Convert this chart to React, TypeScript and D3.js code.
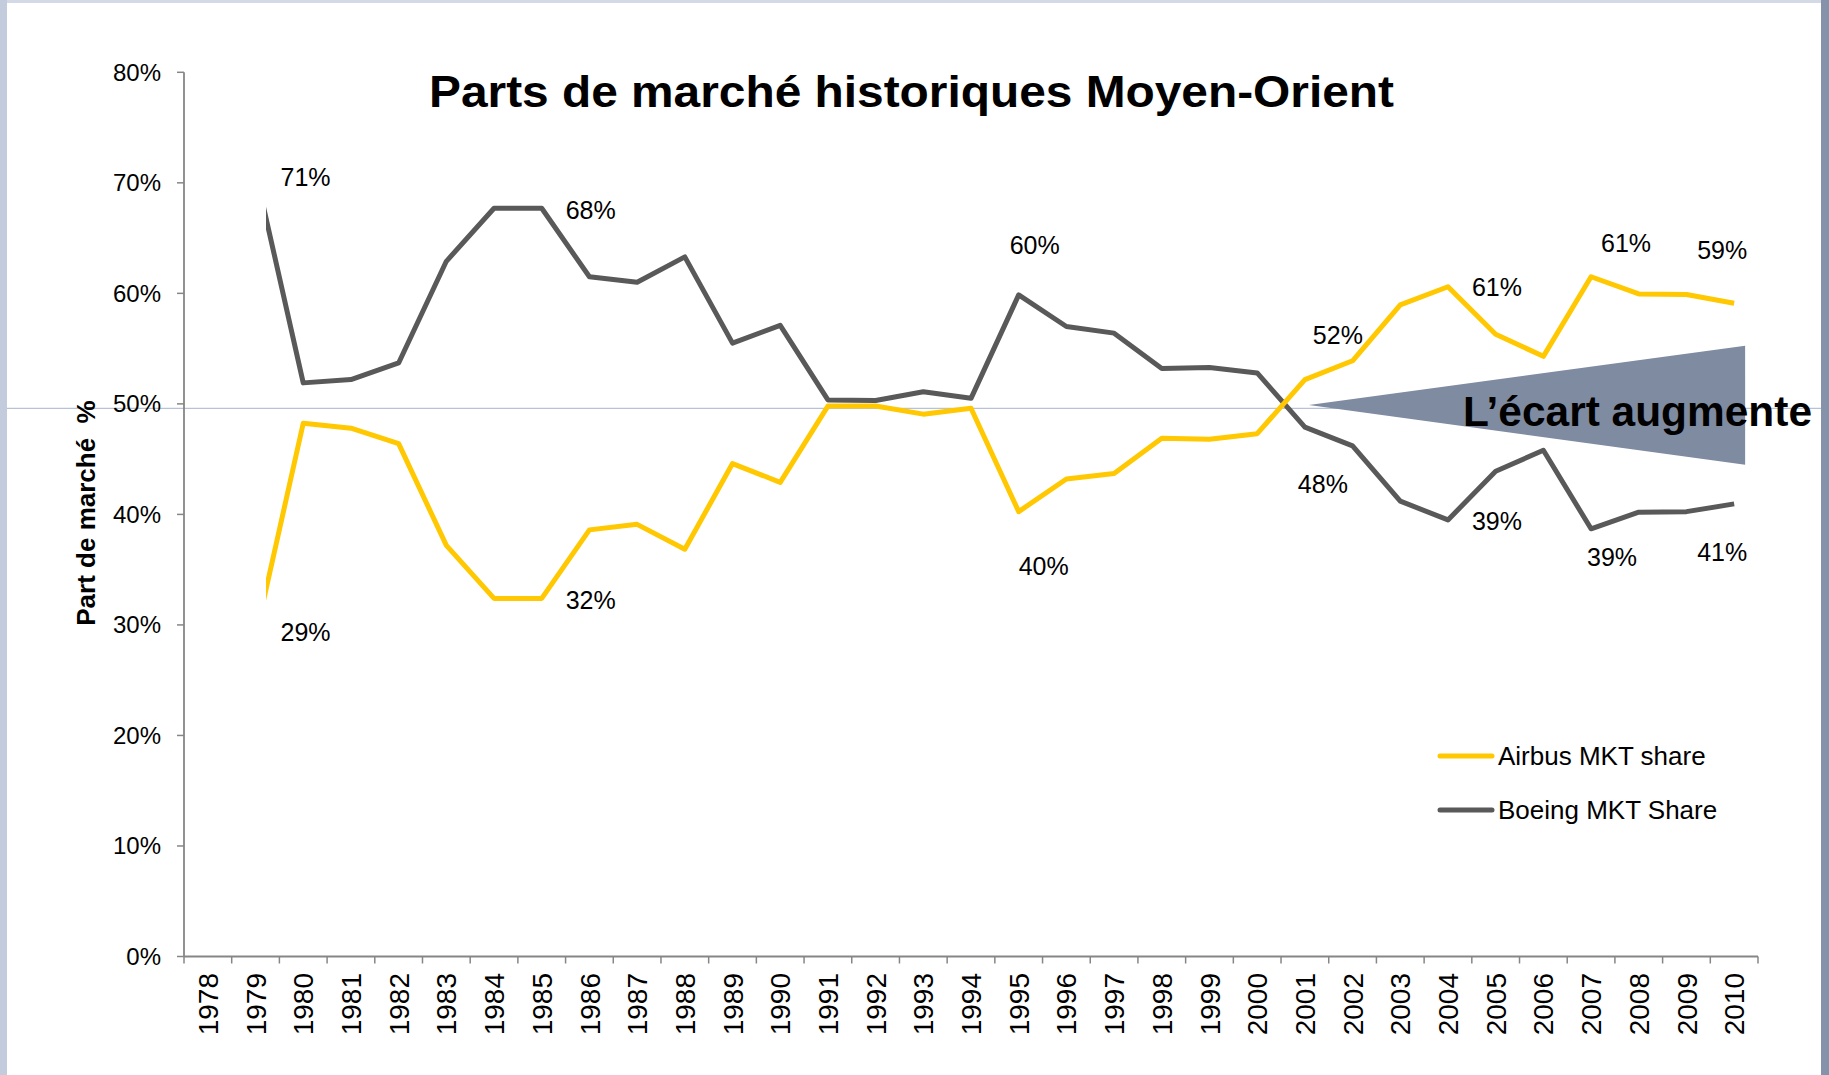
import React from "react";
import * as d3 from "d3";

const years = [
  "1978","1979","1980","1981","1982","1983","1984","1985","1986","1987","1988",
  "1989","1990","1991","1992","1993","1994","1995","1996","1997","1998","1999",
  "2000","2001","2002","2003","2004","2005","2006","2007","2008","2009","2010",
];
const airbusYears = years.slice(1);
const airbusShare = [
  29, 48.25, 47.8, 46.4, 37.2, 32.4, 32.4, 38.6, 39.1, 36.85, 44.6, 42.9, 49.8, 49.8,
  49.07, 49.6, 40.25, 43.2, 43.7, 46.9, 46.8, 47.3, 52.2, 53.9, 58.96, 60.6, 56.3,
  54.3, 61.5, 59.95, 59.9, 59.1,
];
const boeingShare = [
  71, 51.9, 52.2, 53.7, 62.9, 67.7, 67.7, 61.5, 61.0, 63.3, 55.5, 57.1, 50.36, 50.3,
  51.1, 50.5, 59.86, 57.0, 56.4, 53.2, 53.3, 52.8, 47.9, 46.2, 41.2, 39.5, 43.9,
  45.8, 38.7, 40.2, 40.25, 40.95,
];
const yTicks = [0, 10, 20, 30, 40, 50, 60, 70, 80];

// label annotations: year, series, text (offsets are layout)
const labelYears = ["1979","1979","1985","1985","1995","1995","2001","2001","2004","2004","2007","2007","2010","2010"];
const labelSeries = ["B","A","B","A","B","A","A","B","A","B","A","B","A","B"];
const labelTexts = ["71%","29%","68%","32%","60%","40%","52%","48%","61%","39%","61%","39%","59%","41%"];
const labelDx = [50, 50, 49, 49, 16, 25, 33, 18, 49, 49, 35, 21, -12, -12];
const labelDy = [5, -4, 2, 2, -50, 55, -44, 57, 1, 1, -34, 28, -53, 48];

const seriesNames = ["Airbus MKT share", "Boeing MKT Share"];
const AIRBUS = "#FFC800";
const BOEING = "#595959";
const FONT = "'Liberation Sans', Arial, sans-serif";

export default function App() {
  const W = 1829, H = 1075;
  const x = d3.scaleBand<string>().domain(years).range([184, 1758]).paddingInner(0).paddingOuter(0);
  const bw = x.bandwidth();
  const cx = (yr: string) => (x(yr) as number) + bw / 2;
  const y = d3.scaleLinear().domain([0, 80]).range([956.5, 72.3]);

  const line = d3.line<[string, number]>().x(d => cx(d[0])).y(d => y(d[1]));
  const aPts = airbusYears.map((yr, i) => [yr, airbusShare[i]] as [string, number]);
  const bPts = airbusYears.map((yr, i) => [yr, boeingShare[i]] as [string, number]);
  const valOf = (yr: string, s: string) => {
    const i = airbusYears.indexOf(yr);
    return s === "A" ? airbusShare[i] : boeingShare[i];
  };

  const clipX = cx("1979") + bw * 0.22;
  const tipX = cx("2001") + 4;
  const endX = cx("2010") + 11;
  const tri = `M${tipX},${y(49.9)} L${endX},${y(55.25)} L${endX},${y(44.5)} Z`;

  return (
    <svg width={W} height={H} style={{ position: "absolute", left: 0, top: 0, background: "#fff" }} fontFamily={FONT}>
      <rect x={0} y={0} width={W} height={H} fill="#fff" />
      <rect x={0} y={0} width={W} height={3} fill="#d3dae6" />
      <rect x={0} y={0} width={7} height={H} fill="#c3ccdd" />
      <rect x={1821} y={0} width={8} height={H} fill="#8592aa" />

      {/* reference line near 50% */}
      <line x1={7} x2={1821} y1={y(49.6)} y2={y(49.6)} stroke="#b7c2d6" strokeWidth={1.2} />

      {/* axes */}
      <line x1={184} x2={184} y1={y(80)} y2={y(0)} stroke="#868686" strokeWidth={1.8} />
      {yTicks.map(t => (
        <g key={t}>
          <line x1={177} x2={184} y1={y(t)} y2={y(t)} stroke="#868686" strokeWidth={1.5} />
          <text x={161} y={y(t)} dy="0.35em" textAnchor="end" fontSize={24} fill="#000">{t}%</text>
        </g>
      ))}
      <line x1={184} x2={1758} y1={y(0)} y2={y(0)} stroke="#868686" strokeWidth={2} />
      {years.map(yr => (
        <line key={"t" + yr} x1={x(yr) as number} x2={x(yr) as number} y1={y(0)} y2={y(0) + 7} stroke="#868686" strokeWidth={1.5} />
      ))}
      <line x1={1758} x2={1758} y1={y(0)} y2={y(0) + 7} stroke="#868686" strokeWidth={1.5} />
      {years.map(yr => (
        <text key={"l" + yr} transform={`translate(${cx(yr)},${973}) rotate(-90)`} dy="0.36em" textAnchor="end" fontSize={28} fill="#000">{yr}</text>
      ))}

      <text transform={`translate(86,${513}) rotate(-90)`} dy="0.36em" textAnchor="middle" fontSize={26} fontWeight="bold" fill="#000" style={{ whiteSpace: "pre" }}>
        {"Part de marché  %"}
      </text>

      <defs>
        <clipPath id="plotclip">
          <rect x={clipX} y={0} width={W} height={H} />
        </clipPath>
      </defs>
      <g clipPath="url(#plotclip)">
        <path d={line(bPts) || ""} fill="none" stroke={BOEING} strokeWidth={5} strokeLinejoin="round" />
        <path d={line(aPts) || ""} fill="none" stroke={AIRBUS} strokeWidth={5} strokeLinejoin="round" />
      </g>

      {labelTexts.map((t, i) => (
        <text key={"d" + i} x={cx(labelYears[i]) + labelDx[i]} y={y(valOf(labelYears[i], labelSeries[i])) + labelDy[i]} dy="0.35em" textAnchor="middle" fontSize={25} fill="#000">{t}</text>
      ))}

      <path d={tri} fill="#7f8ba1" />
      <text x={1463} y={426} fontSize={42} fontWeight="bold" fill="#000" textLength={349} lengthAdjust="spacingAndGlyphs">L’écart augmente</text>

      <text x={429} y={107} fontSize={45} fontWeight="bold" fill="#000" textLength={965} lengthAdjust="spacingAndGlyphs">Parts de marché historiques Moyen-Orient</text>

      {/* legend */}
      {seriesNames.map((n, i) => (
        <g key={n}>
          <line x1={1440} x2={1492} y1={756 + i * 54} y2={756 + i * 54} stroke={i === 0 ? AIRBUS : BOEING} strokeWidth={5} strokeLinecap="round" />
          <text x={1498} y={756 + i * 54} dy="0.35em" fontSize={26} fill="#000">{n}</text>
        </g>
      ))}
    </svg>
  );
}
